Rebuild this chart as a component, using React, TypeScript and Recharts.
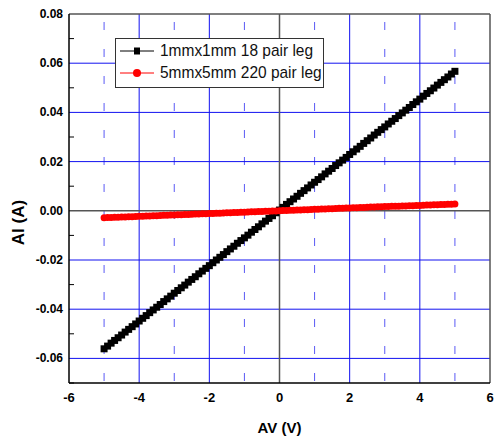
import { LineChart, Line, XAxis, YAxis, ReferenceLine, Legend, Label } from "recharts";

// bias voltage (V)
const voltage = [
  -5.0, -4.9, -4.8, -4.7, -4.6, -4.5, -4.4, -4.3, -4.2, -4.1,
  -4.0, -3.9, -3.8, -3.7, -3.6, -3.5, -3.4, -3.3, -3.2, -3.1,
  -3.0, -2.9, -2.8, -2.7, -2.6, -2.5, -2.4, -2.3, -2.2, -2.1,
  -2.0, -1.9, -1.8, -1.7, -1.6, -1.5, -1.4, -1.3, -1.2, -1.1,
  -1.0, -0.9, -0.8, -0.7, -0.6, -0.5, -0.4, -0.3, -0.2, -0.1,
  0.0, 0.1, 0.2, 0.3, 0.4, 0.5, 0.6, 0.7, 0.8, 0.9,
  1.0, 1.1, 1.2, 1.3, 1.4, 1.5, 1.6, 1.7, 1.8, 1.9,
  2.0, 2.1, 2.2, 2.3, 2.4, 2.5, 2.6, 2.7, 2.8, 2.9,
  3.0, 3.1, 3.2, 3.3, 3.4, 3.5, 3.6, 3.7, 3.8, 3.9,
  4.0, 4.1, 4.2, 4.3, 4.4, 4.5, 4.6, 4.7, 4.8, 4.9,
  5.0,
];

// 1mm x 1mm, 18 pair legs (A)
const current1mm = [
  -0.0561, -0.0550, -0.0538, -0.0527, -0.0516, -0.0505, -0.0493, -0.0482, -0.0471, -0.0460,
  -0.0448, -0.0437, -0.0426, -0.0414, -0.0403, -0.0392, -0.0381, -0.0369, -0.0358, -0.0347,
  -0.0335, -0.0324, -0.0313, -0.0302, -0.0290, -0.0279, -0.0268, -0.0256, -0.0245, -0.0234,
  -0.0223, -0.0211, -0.0200, -0.0189, -0.0178, -0.0166, -0.0155, -0.0144, -0.0132, -0.0121,
  -0.0110, -0.0099, -0.0087, -0.0076, -0.0065, -0.0053, -0.0042, -0.0031, -0.0020, -0.0008,
  0.0003, 0.0014, 0.0026, 0.0037, 0.0048, 0.0059, 0.0071, 0.0082, 0.0093, 0.0105,
  0.0116, 0.0127, 0.0138, 0.0150, 0.0161, 0.0172, 0.0184, 0.0195, 0.0206, 0.0217,
  0.0229, 0.0240, 0.0251, 0.0262, 0.0274, 0.0285, 0.0296, 0.0308, 0.0319, 0.0330,
  0.0341, 0.0353, 0.0364, 0.0375, 0.0387, 0.0398, 0.0409, 0.0420, 0.0432, 0.0443,
  0.0454, 0.0466, 0.0477, 0.0488, 0.0499, 0.0511, 0.0522, 0.0533, 0.0544, 0.0556,
  0.0567,
];

// 5mm x 5mm, 220 pair legs (A)
const current5mm = [
  -0.0028, -0.0027, -0.0027, -0.0026, -0.0026, -0.0025, -0.0025, -0.0024, -0.0024, -0.0023,
  -0.0022, -0.0022, -0.0021, -0.0021, -0.0020, -0.0020, -0.0019, -0.0018, -0.0018, -0.0017,
  -0.0017, -0.0016, -0.0016, -0.0015, -0.0015, -0.0014, -0.0013, -0.0013, -0.0012, -0.0012,
  -0.0011, -0.0011, -0.0010, -0.0010, -0.0009, -0.0008, -0.0008, -0.0007, -0.0007, -0.0006,
  -0.0006, -0.0005, -0.0004, -0.0004, -0.0003, -0.0003, -0.0002, -0.0002, -0.0001, -0.0001,
  0.0000, 0.0001, 0.0001, 0.0002, 0.0002, 0.0003, 0.0003, 0.0004, 0.0004, 0.0005,
  0.0006, 0.0006, 0.0007, 0.0007, 0.0008, 0.0008, 0.0009, 0.0010, 0.0010, 0.0011,
  0.0011, 0.0012, 0.0012, 0.0013, 0.0013, 0.0014, 0.0015, 0.0015, 0.0016, 0.0016,
  0.0017, 0.0017, 0.0018, 0.0018, 0.0019, 0.0020, 0.0020, 0.0021, 0.0021, 0.0022,
  0.0022, 0.0023, 0.0024, 0.0024, 0.0025, 0.0025, 0.0026, 0.0026, 0.0027, 0.0027,
  0.0028,
];

const seriesNames = ["1mmx1mm 18 pair leg", "5mmx5mm 220 pair leg"];
const xTicks = [-6, -4, -2, 0, 2, 4, 6];
const xMinor = [-5, -3, -1, 1, 3, 5];
const yTicks = [-0.06, -0.04, -0.02, 0, 0.02, 0.04, 0.06, 0.08];
const yMinor = [-0.07, -0.05, -0.03, -0.01, 0.01, 0.03, 0.05, 0.07];

const FONT = "'Liberation Sans', Arial, sans-serif";
const GRID_BLUE = "#1010f0";

const data = voltage.map((v, i) => ({ v, a: current1mm[i], b: current5mm[i] }));
const yAll = [...yTicks, ...yMinor].sort((p, q) => p - q);

const YTick = (props: any) => {
  const { x, y, payload } = props;
  const val = payload.value;
  const major = yTicks.some((t) => Math.abs(t - val) < 1e-9);
  if (!major) {
    return <line x1={x + 6} x2={x + 11} y1={y} y2={y} stroke="#000" strokeWidth={1} />;
  }
  return (
    <text x={x} y={y} textAnchor="end" dominantBaseline="central" fontSize={12} fontWeight="bold" fill="#000" fontFamily={FONT}>
      {val.toFixed(2)}
    </text>
  );
};

const squareDot = (props: any) => {
  const { cx, cy, key } = props;
  return <rect key={key} x={cx - 3.5} y={cy - 3.5} width={7} height={7} fill="#000" />;
};

const circleDot = (props: any) => {
  const { cx, cy, key } = props;
  return <circle key={key} cx={cx} cy={cy} r={3.5} fill="#ff0000" />;
};

const renderLegend = () => (
  <div style={{ border: "1px solid #333", background: "#fff", width: 203, height: 47, boxSizing: "content-box", padding: "1px 0 0 4px", fontFamily: FONT, fontSize: 17, color: "#111" }}>
    {seriesNames.map((name, i) => (
      <div key={name} style={{ display: "flex", alignItems: "center", height: 22, whiteSpace: "nowrap" }}>
        <svg width={34} height={12} style={{ marginRight: 6, flex: "none" }}>
          <line x1={0} x2={34} y1={6} y2={6} stroke={i === 0 ? "#000" : "#ff0000"} strokeWidth={1} />
          {i === 0 ? <rect x={14} y={2.5} width={6} height={7} fill="#000" /> : <circle cx={17} cy={6} r={4} fill="#ff0000" />}
        </svg>
        <span style={{ display: "inline-block", fontSize: 17, transform: "scaleX(0.91)", transformOrigin: "left center" }}>{name}</span>
      </div>
    ))}
  </div>
);

export default function App() {
  return (
    <div style={{ position: "absolute", left: 0, top: 0, background: "#fff" }}>
      <LineChart width={495} height={437} data={data} margin={{ top: 14, right: 5, bottom: 0, left: 14 }}>
        {xMinor.map((v) => (
          <ReferenceLine key={"m" + v} x={v} stroke="#5a5af5" strokeWidth={1} strokeDasharray="8 19" strokeDashoffset={-2} />
        ))}
        {xTicks.filter((v) => v !== 0 && Math.abs(v) !== 6).map((v) => (
          <ReferenceLine key={"x" + v} x={v} stroke={GRID_BLUE} strokeWidth={1} />
        ))}
        {yTicks.filter((v) => v !== 0 && v !== 0.08).map((v) => (
          <ReferenceLine key={"y" + v} y={v} stroke={GRID_BLUE} strokeWidth={1} />
        ))}
        <ReferenceLine x={0} stroke="#555" strokeWidth={1.5} />
        <ReferenceLine y={0} stroke="#555" strokeWidth={1.5} />
        <ReferenceLine y={0.08} stroke="#555" strokeWidth={1.5} />
        <ReferenceLine x={6} stroke="#555" strokeWidth={1.5} />
        <XAxis
          dataKey="v"
          type="number"
          domain={[-6, 6]}
          ticks={xTicks}
          height={54}
          tickLine={false}
          tickSize={0}
          tickMargin={10}
          axisLine={{ stroke: "#000", strokeWidth: 1.5 }}
          tick={{ fontSize: 13, fontWeight: "bold", fill: "#000", fontFamily: FONT }}
        >
          <Label
            content={({ viewBox }: any) => (
              <text x={viewBox.x + viewBox.width / 2} y={viewBox.y + 44} textAnchor="middle" dominantBaseline="central" fontSize={15} fontWeight="bold" fontFamily={FONT} fill="#000">
                AV (V)
              </text>
            )}
          />
        </XAxis>
        <YAxis
          type="number"
          domain={[-0.07, 0.08]}
          ticks={yAll}
          width={55}
          interval={0}
          tickLine={false}
          tickSize={0}
          tickMargin={6}
          axisLine={{ stroke: "#000", strokeWidth: 1.5 }}
          tick={YTick}
        >
          <Label
            content={({ viewBox }: any) => {
              const cx = viewBox.x + 4;
              const cy = viewBox.y + viewBox.height / 2 + 24;
              return (
                <text x={cx} y={cy} transform={`rotate(-90 ${cx} ${cy})`} textAnchor="middle" dominantBaseline="central" fontSize={17} fontWeight="bold" fontFamily={FONT} fill="#000">
                  AI (A)
                </text>
              );
            }}
          />
        </YAxis>
        <Legend layout="vertical" align="center" verticalAlign="middle" content={renderLegend} wrapperStyle={{ left: 115, top: 38, width: "auto", height: "auto" }} />
        <Line dataKey="a" name={seriesNames[0]} stroke="#000" strokeWidth={1} dot={squareDot} activeDot={false} isAnimationActive={false} />
        <Line dataKey="b" name={seriesNames[1]} stroke="#ff0000" strokeWidth={1} dot={circleDot} activeDot={false} isAnimationActive={false} />
      </LineChart>
    </div>
  );
}
